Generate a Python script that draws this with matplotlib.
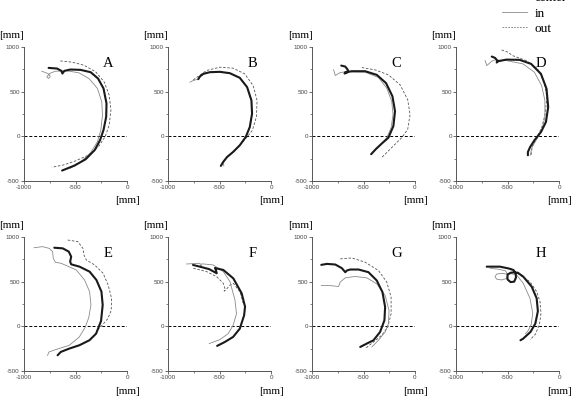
import numpy as np
import matplotlib
matplotlib.use("Agg")
import matplotlib.pyplot as plt
from matplotlib.lines import Line2D
from matplotlib.ticker import MultipleLocator

# trajectories, (x, y) in mm
A_CENTER = [(-761, 766), (-680, 759), (-637, 733), (-627, 703), (-608, 733), (-549, 748),
            (-451, 744), (-353, 718), (-281, 647), (-228, 536), (-199, 368), (-202, 219),
            (-228, 71), (-261, -41), (-313, -153), (-402, -257), (-510, -327), (-630, -383)]
A_IN = [(-827, 729), (-768, 703), (-745, 673), (-761, 647), (-778, 666), (-752, 703),
        (-696, 729), (-581, 733), (-467, 711), (-369, 647), (-287, 536), (-245, 387),
        (-238, 238), (-254, 71), (-287, -60), (-353, -182), (-451, -290), (-549, -357)]
A_OUT = [(-647, 844), (-532, 830), (-418, 796), (-304, 722), (-222, 610), (-173, 461),
         (-156, 294), (-173, 126), (-212, -4), (-277, -115), (-369, -208), (-500, -275),
         (-614, -320), (-729, -346)]

B_CENTER = [(-706, 640), (-690, 670), (-658, 699), (-594, 718), (-497, 722), (-400, 707),
            (-303, 655), (-232, 551), (-190, 402), (-184, 253), (-206, 104), (-245, -7),
            (-303, -100), (-368, -175), (-426, -231), (-464, -286), (-487, -331)]
B_IN = [(-787, 606), (-755, 625), (-706, 640), (-690, 670), (-658, 699), (-594, 718),
        (-497, 722), (-400, 707), (-303, 655), (-232, 551), (-190, 402), (-184, 253),
        (-206, 104), (-245, -7), (-303, -100), (-368, -175), (-426, -231), (-464, -298),
        (-458, -331)]
B_OUT = [(-755, 632), (-626, 737), (-497, 774), (-368, 763), (-255, 699), (-174, 569),
         (-135, 402), (-142, 216), (-181, 67), (-232, -7), (-280, -70)]

C_CENTER = [(-716, 792), (-677, 781), (-652, 744), (-658, 714), (-684, 703), (-677, 718),
            (-613, 729), (-484, 729), (-371, 688), (-281, 596), (-219, 448), (-194, 281),
            (-210, 115), (-258, -15), (-323, -81), (-381, -144), (-426, -200)]
C_IN = [(-790, 744), (-774, 681), (-726, 714), (-677, 722), (-484, 718), (-355, 659),
        (-274, 540), (-226, 392), (-213, 244), (-232, 96), (-274, -15), (-329, -89),
        (-394, -163)]
C_OUT = [(-516, 770), (-387, 744), (-258, 688), (-145, 577), (-71, 411), (-48, 244),
         (-71, 78), (-129, -15), (-194, -89), (-258, -163), (-323, -237)]

D_CENTER = [(-653, 893), (-621, 878), (-599, 848), (-605, 826), (-589, 841), (-510, 859),
            (-382, 856), (-271, 811), (-175, 699), (-121, 532), (-105, 327), (-127, 160),
            (-175, 48), (-239, -45), (-280, -119), (-302, -175), (-302, -212)]
D_IN = [(-717, 848), (-701, 792), (-653, 841), (-621, 856), (-510, 848), (-350, 811),
        (-239, 718), (-169, 569), (-137, 402), (-137, 216), (-166, 67), (-213, -26),
        (-261, -119), (-280, -212)]
D_OUT = [(-557, 967), (-494, 941), (-452, 904), (-318, 848), (-207, 755), (-143, 606),
         (-118, 439), (-134, 253), (-166, 104), (-213, -7), (-261, -119), (-271, -212)]

E_CENTER = [(-706, 880), (-624, 873), (-565, 836), (-542, 780), (-552, 724), (-542, 694),
            (-461, 668), (-363, 612), (-297, 519), (-248, 388), (-236, 239), (-252, 60),
            (-300, -82), (-365, -156), (-463, -212), (-560, -249), (-642, -286), (-674, -324)]
E_IN = [(-902, 880), (-820, 892), (-755, 873), (-722, 836), (-716, 762), (-696, 717),
        (-640, 706), (-493, 631), (-412, 519), (-363, 388), (-350, 239), (-371, 100),
        (-404, -7), (-463, -119), (-560, -212), (-691, -260), (-756, -286), (-772, -324)]
E_OUT = [(-575, 966), (-477, 948), (-428, 873), (-418, 799), (-395, 743), (-314, 687),
         (-232, 594), (-183, 463), (-150, 314), (-153, 179), (-186, 86), (-251, 0),
         (-300, -52)]

F_CENTER = [(-757, 687), (-690, 668), (-600, 640), (-527, 594), (-535, 630), (-544, 653),
            (-463, 631), (-366, 537), (-285, 370), (-252, 220), (-261, 123), (-303, -26),
            (-368, -119), (-448, -175), (-523, -219)]
F_IN = [(-819, 698), (-689, 706), (-680, 660), (-670, 700), (-560, 687), (-463, 612),
        (-398, 500), (-350, 295), (-335, 141), (-368, 11), (-416, -82), (-497, -149),
        (-600, -193)]
F_OUT = [(-754, 650), (-624, 612), (-527, 556), (-463, 481), (-447, 420), (-455, 395),
         (-440, 405), (-400, 460), (-366, 481), (-301, 388), (-269, 258)]

G_CENTER = [(-910, 688), (-855, 699), (-774, 692), (-710, 651), (-677, 606), (-661, 625),
            (-629, 636), (-548, 636), (-452, 606), (-371, 513), (-316, 383), (-290, 216),
            (-297, 67), (-339, -63), (-403, -156), (-468, -193), (-532, -231)]
G_IN = [(-910, 458), (-839, 458), (-742, 446), (-726, 495), (-677, 543), (-581, 558),
        (-468, 543), (-371, 476), (-290, 346), (-252, 179), (-258, 30), (-290, -63),
        (-355, -156), (-419, -231)]
G_OUT = [(-726, 755), (-613, 766), (-484, 718), (-355, 625), (-274, 495), (-232, 327),
         (-232, 141), (-264, -7), (-323, -100), (-403, -175), (-484, -249)]

H_CENTER = [(-702, 668), (-573, 668), (-490, 648), (-443, 631), (-420, 595), (-418, 545),
            (-435, 500), (-470, 495), (-500, 525), (-500, 578), (-470, 600), (-440, 604),
            (-400, 600), (-347, 556), (-265, 444), (-217, 314), (-205, 170), (-230, 30),
            (-277, -63), (-348, -138), (-374, -156)]
H_IN = [(-670, 650), (-590, 640), (-520, 622), (-495, 578), (-512, 535), (-556, 519),
        (-605, 528), (-621, 556), (-605, 585), (-556, 593), (-505, 585), (-470, 590),
        (-411, 575), (-347, 481), (-282, 314), (-255, 146), (-270, 20), (-300, -50),
        (-325, -82)]
H_OUT = [(-476, 650), (-379, 575), (-282, 500), (-217, 388), (-184, 276), (-175, 146),
         (-190, 20), (-230, -90), (-280, -150)]

PANELS = [("A", A_CENTER, A_IN, A_OUT), ("B", B_CENTER, B_IN, B_OUT),
          ("C", C_CENTER, C_IN, C_OUT), ("D", D_CENTER, D_IN, D_OUT),
          ("E", E_CENTER, E_IN, E_OUT), ("F", F_CENTER, F_IN, F_OUT),
          ("G", G_CENTER, G_IN, G_OUT), ("H", H_CENTER, H_IN, H_OUT)]

W, H = 577, 407
fig = plt.figure(figsize=(W / 100, H / 100), dpi=100)

serif = "Liberation Serif"
lefts = [24, 168, 312, 456]
tops = [47, 237]
ax_w, ax_h = 103, 134

center_kw = dict(color="#1a1a1a", lw=1.5, solid_capstyle="round", solid_joinstyle="round")
in_kw = dict(color="#8a8a8a", lw=0.6)
out_kw = dict(color="#555555", lw=0.6, ls=(0, (3, 2)))

for i, (label, c, inn, out) in enumerate(PANELS):
    left = lefts[i % 4]
    top = tops[i // 4]
    ax = fig.add_axes([left / W, 1 - (top + ax_h) / H, ax_w / W, ax_h / H])

    ax.axhline(0, color="black", lw=0.7, ls=(0, (3, 2)))
    xo, yo = zip(*out)
    ax.plot(xo, yo, **out_kw)
    xi, yi = zip(*inn)
    ax.plot(xi, yi, **in_kw)
    xc, yc = zip(*c)
    ax.plot(xc, yc, **center_kw)

    ax.set_xlim(-1000, 0)
    ax.set_ylim(-500, 1000)
    ax.set_xticks([-1000, -500, 0])
    ax.set_yticks([-500, 0, 500, 1000])
    ax.xaxis.set_minor_locator(MultipleLocator(250))
    ax.yaxis.set_minor_locator(MultipleLocator(250))
    for s in ("top", "right"):
        ax.spines[s].set_visible(False)
    for s in ("left", "bottom"):
        ax.spines[s].set_color("#555555")
        ax.spines[s].set_linewidth(0.7)
    ax.tick_params(which="major", length=2, width=0.6, color="#555555",
                   labelsize=4.5, labelcolor="#444444", pad=1)
    ax.tick_params(which="minor", length=1.2, width=0.5, color="#555555")
    ax.set_xticklabels(["-1000", "-500", "0"])
    ax.set_yticklabels(["-500", "0", "500", "1000"])
    for t in ax.get_xticklabels() + ax.get_yticklabels():
        t.set_fontfamily("Liberation Sans")

    ax.text(0.82, 0.88, label, transform=ax.transAxes, fontsize=10.5,
            fontfamily=serif, ha="center", va="center")
    fig.text((left - 12) / W, 1 - (top - 12) / H, "[mm]", fontsize=8,
             fontfamily=serif, ha="center", va="center")
    fig.text((left + ax_w) / W, 1 - (top + ax_h + 20) / H, "[mm]", fontsize=8,
             fontfamily=serif, ha="center", va="center")

handles = [Line2D([], [], **center_kw), Line2D([], [], **in_kw),
           Line2D([], [], color="#777777", lw=0.6, ls=(0, (2, 1.5)))]
handles[0].set_linewidth(2.2)
leg = fig.legend(handles, ["center", "in", "out"], loc="upper left",
                 bbox_to_anchor=(502 / W, 1 + 8 / H), frameon=False,
                 prop={"family": serif, "size": 9.5}, handlelength=1.9,
                 handletextpad=0.6, labelspacing=0.24, borderaxespad=0, borderpad=0)

fig.savefig("out.png", dpi=100)
